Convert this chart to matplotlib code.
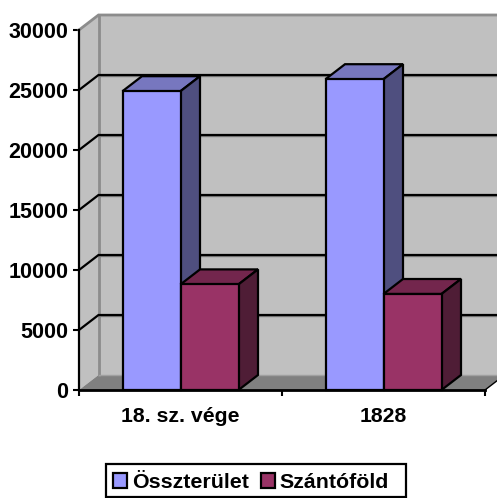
import numpy as np
import matplotlib
matplotlib.use("Agg")
import matplotlib.pyplot as plt
from matplotlib.patches import Polygon, Patch, Rectangle

plt.rcParams['font.family'] = ['Liberation Sans', 'DejaVu Sans']
plt.rcParams['font.weight'] = 'bold'

# ------------------ DATA ------------------
categories = ["18. sz. vége", "1828"]
series_names = ["Összterület", "Szántóföld"]
osszterulet = [24900, 25900]
szantofold = [8800, 8000]
y_ticks = [0, 5000, 10000, 15000, 20000, 25000, 30000]

front_colors = ["#9999FF", "#993366"]
top_colors = ["#7777BF", "#73264D"]
side_colors = ["#4F4F7F", "#4F1D36"]

# ------------------ FIGURE ------------------
W, H = 497, 498
fig = plt.figure(figsize=(W / 100, H / 100), dpi=100)

# axes box = front plane of the 3D box, in pixels
left, right, top, bottom = 79, 485, 30, 390
ax = fig.add_axes([left / W, 1 - bottom / H, (right - left) / W, (bottom - top) / H])
ax.set_xlim(0, 2)
ax.set_ylim(0, 30000)
ax.patch.set_visible(False)
for s in ax.spines.values():
    s.set_visible(False)

# depth of the fake 3D, in data units
dx = 19.5 / ((right - left) / 2)
dy = 15 / ((bottom - top) / 30000)
bar_w = 58 / ((right - left) / 2)
lw = 1.6


def poly(pts, color, z, edge="none", width=0):
    ax.add_patch(Polygon(pts, closed=True, facecolor=color, edgecolor=edge,
                         linewidth=width, zorder=z, clip_on=False, joinstyle="miter"))


# walls and floor
ymax = y_ticks[-1]
poly([(0, 0), (dx, dy), (2 + dx, dy), (2 + dx, ymax + dy), (dx, ymax + dy), (0, ymax)], "#C0C0C0", 1)
poly([(0, 0), (2, 0), (2 + dx, dy), (dx, dy)], "#808080", 2)
ax.plot([dx, dx], [dy, ymax + dy], color="#8C8C8C", lw=2, zorder=2.5, clip_on=False)
ax.plot([0, dx, 2 + dx], [ymax, ymax + dy, ymax + dy], color="#8C8C8C", lw=2, zorder=2.5,
        clip_on=False, solid_joinstyle="miter")
ax.plot([dx, 2 + dx], [dy, dy], color="#A0A0A0", lw=1, zorder=2.6, clip_on=False)

# gridlines, gray shadow below the black line
for v in y_ticks[1:-1]:
    ax.plot([dx, 2 + dx], [v + dy - 120, v + dy - 120], color="#808080", lw=1, zorder=3, clip_on=False)
    ax.plot([0, dx, 2 + dx], [v, v + dy, v + dy], color="black", lw=lw, zorder=3.1, clip_on=False,
            solid_joinstyle="miter")

# bars
x = np.arange(len(categories)) + 0.5
for i, vals in enumerate([osszterulet, szantofold]):
    xs = x - bar_w + i * bar_w
    z = 4 + i
    for x0, v in zip(xs, vals):
        x1 = x0 + bar_w
        poly([(x0, v), (x1, v), (x1 + dx, v + dy), (x0 + dx, v + dy)], top_colors[i], z, "black", lw)
        poly([(x1, 0), (x1 + dx, dy), (x1 + dx, v + dy), (x1, v)], side_colors[i], z, "black", lw)
    ax.bar(xs, vals, bar_w, align="edge", color=front_colors[i], edgecolor="black",
           linewidth=lw, zorder=z + 0.5, clip_on=False)

# axes lines
ax.plot([0, 0], [0, ymax], color="black", lw=lw, zorder=9, clip_on=False)
ax.plot([0, 2], [0, 0], color="black", lw=2, zorder=9, clip_on=False)
ax.plot([2, 2 + dx], [0, dy], color="black", lw=1, zorder=9, clip_on=False)

ax.set_yticks(y_ticks)
ax.set_yticklabels([str(v) for v in y_ticks], fontsize=15.5, fontweight="bold")
ax.set_xticks([0, 1, 2])
ax.set_xticks(x, minor=True)
ax.set_xticklabels([])
ax.set_xticklabels(categories, minor=True, fontsize=15.3, fontweight="bold")
ax.tick_params(axis="both", which="major", length=4.5, width=1.5, color="black", pad=3)
ax.tick_params(axis="x", which="minor", length=0, pad=12)

# ------------------ LEGEND ------------------
fig.add_artist(Rectangle((105.5 / W, 1 - 496.5 / H), 300 / W, 32.5 / H, transform=fig.transFigure,
                         facecolor="white", edgecolor="black", linewidth=1.6))
handles = [Patch(facecolor=c, edgecolor="black", linewidth=lw) for c in front_colors]
leg = fig.legend(handles, series_names, loc="center left", bbox_to_anchor=(113 / W, 1 - 482.5 / H),
                 ncol=2, fontsize=15.4, frameon=False,
                 handlelength=0.65, handleheight=0.65, handletextpad=0.23,
                 columnspacing=0.56, borderpad=0, borderaxespad=0)

fig.savefig("out.png", dpi=100)
